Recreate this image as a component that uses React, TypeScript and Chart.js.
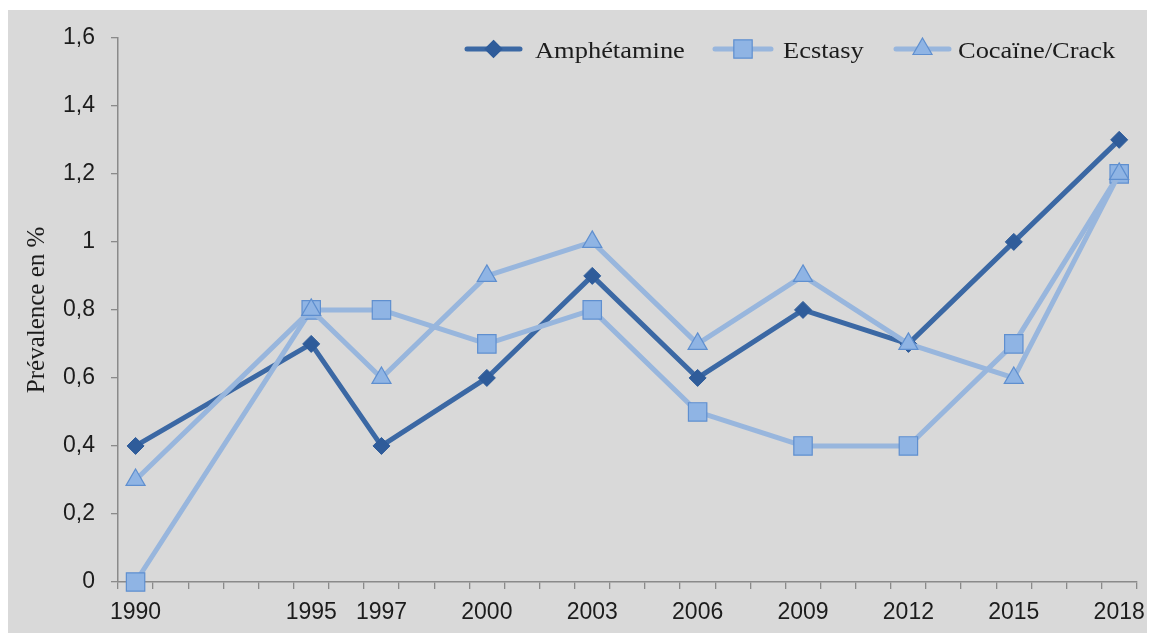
import React, { useEffect, useRef } from 'react';
import { Chart, registerables } from 'chart.js';

Chart.register(...registerables);

// ---- data ----
const firstYear = 1990;
const lastYear = 2018;
const labeledYears = [1990, 1995, 1997, 2000, 2003, 2006, 2009, 2012, 2015, 2018];
const surveyYears = [1990, 1995, 1997, 2000, 2003, 2006, 2009, 2012, 2015, 2018];
const amphetamine = [0.4, 0.7, 0.4, 0.6, 0.9, 0.6, 0.8, 0.7, 1.0, 1.3];
const ecstasy = [0.0, 0.8, 0.8, 0.7, 0.8, 0.5, 0.4, 0.4, 0.7, 1.2];
const cocaine = [0.3, 0.8, 0.6, 0.9, 1.0, 0.7, 0.9, 0.7, 0.6, 1.2];
const seriesNames = ['Amphétamine', 'Ecstasy', 'Cocaïne/Crack'];
const yAxisTitle = 'Prévalence en %';
const yMin = 0;
const yMax = 1.6;
const yStep = 0.2;

const allYears: number[] = [];
for (let y = firstYear; y <= lastYear; y++) allYears.push(y);

// ---- styles ----
const BG = '#d9d9d9';
const AXIS = '#8a8a8a';
const TEXT = '#1c1c1c';
const AMPH_LINE = '#3b68a4';
const AMPH_MARK = '#2f5c9a';
const LIGHT_LINE = '#98b6dd';
const MARK_FILL = '#8fb4e4';
const MARK_BORDER = '#5f8fcf';

function drawMarker(ctx: CanvasRenderingContext2D, style: string, x: number, y: number, r: number, fill: string, stroke: string) {
  ctx.save();
  ctx.fillStyle = fill;
  ctx.strokeStyle = stroke;
  ctx.lineWidth = 1.2;
  ctx.beginPath();
  if (style === 'rectRot') {
    ctx.moveTo(x, y - r);
    ctx.lineTo(x + r, y);
    ctx.lineTo(x, y + r);
    ctx.lineTo(x - r, y);
    ctx.closePath();
  } else if (style === 'rect') {
    const h = r * Math.SQRT1_2;
    ctx.rect(x - h, y - h, 2 * h, 2 * h);
  } else {
    const w = r * Math.sin(Math.PI / 3);
    ctx.moveTo(x, y - r);
    ctx.lineTo(x + w, y + r / 2);
    ctx.lineTo(x - w, y + r / 2);
    ctx.closePath();
  }
  ctx.fill();
  ctx.stroke();
  ctx.restore();
}

const backgroundPlugin = {
  id: 'grayBackground',
  beforeDraw(chart: any) {
    const ctx = chart.ctx as CanvasRenderingContext2D;
    ctx.save();
    ctx.fillStyle = BG;
    ctx.fillRect(0, 2, chart.width, chart.height - 2);
    ctx.restore();
  },
};

const legendPlugin = {
  id: 'insideLegend',
  afterDraw(chart: any) {
    const ctx = chart.ctx as CanvasRenderingContext2D;
    const cy = 41;
    const items = [
      { line0: 459, line1: 512, text: 527 },
      { line0: 707, line1: 763, text: 775 },
      { line0: 888, line1: 941, text: 950 },
    ];
    chart.data.datasets.forEach((ds: any, i: number) => {
      const it = items[i];
      ctx.save();
      ctx.strokeStyle = ds.borderColor;
      ctx.lineWidth = 5;
      ctx.lineCap = 'round';
      ctx.beginPath();
      ctx.moveTo(it.line0, cy);
      ctx.lineTo(it.line1, cy);
      ctx.stroke();
      ctx.restore();
      drawMarker(ctx, ds.pointStyle, (it.line0 + it.line1) / 2, cy, ds.pointRadius, ds.pointBackgroundColor, ds.pointBorderColor);
      ctx.save();
      ctx.translate(it.text, cy + 9);
      ctx.scale(1.15, 1);
      ctx.fillStyle = TEXT;
      ctx.font = '23px "Liberation Serif", "Times New Roman", serif';
      ctx.textBaseline = 'alphabetic';
      ctx.textAlign = 'left';
      ctx.fillText(ds.label, 0, 0);
      ctx.restore();
    });
  },
};

function toPoints(values: number[]) {
  return surveyYears.map((yr, i) => ({ x: String(yr), y: values[i] }));
}

export default function App() {
  const ref = useRef<HTMLCanvasElement | null>(null);

  useEffect(() => {
    document.body.style.overflow = 'hidden';
    const canvas = ref.current;
    if (!canvas) return;
    const chart = new Chart(canvas, {
      type: 'line',
      data: {
        labels: allYears.map(String),
        datasets: [
          {
            label: seriesNames[0],
            data: toPoints(amphetamine),
            borderColor: AMPH_LINE,
            borderWidth: 5,
            pointStyle: 'rectRot',
            pointRadius: 8.5,
            pointBackgroundColor: AMPH_MARK,
            pointBorderColor: AMPH_MARK,
            pointBorderWidth: 1,
            borderJoinStyle: 'round',
            order: 3,
            clip: false,
          },
          {
            label: seriesNames[1],
            data: toPoints(ecstasy),
            borderColor: LIGHT_LINE,
            borderWidth: 5,
            pointStyle: 'rect',
            pointRadius: 13,
            pointBackgroundColor: MARK_FILL,
            pointBorderColor: MARK_BORDER,
            pointBorderWidth: 1.2,
            borderJoinStyle: 'round',
            order: 2,
            clip: false,
          },
          {
            label: seriesNames[2],
            data: toPoints(cocaine),
            borderColor: LIGHT_LINE,
            borderWidth: 5,
            pointStyle: 'triangle',
            pointRadius: 11,
            pointBackgroundColor: MARK_FILL,
            pointBorderColor: MARK_BORDER,
            pointBorderWidth: 1.2,
            borderJoinStyle: 'round',
            order: 1,
            clip: false,
          },
        ] as any,
      },
      options: {
        animation: false,
        responsive: false,
        events: [],
        layout: { padding: { top: 22, right: 14, left: 0, bottom: 0 } },
        plugins: {
          legend: { display: false },
          title: { display: false },
          tooltip: { enabled: false },
        },
        scales: {
          x: {
            type: 'category',
            offset: true,
            grid: {
              display: true,
              offset: true,
              drawOnChartArea: false,
              drawTicks: true,
              tickLength: 7,
              color: AXIS,
              lineWidth: 1.3,
            },
            border: { display: true, color: AXIS, width: 1.5 },
            ticks: {
              autoSkip: false,
              maxRotation: 0,
              minRotation: 0,
              padding: 10,
              color: TEXT,
              font: { family: '"Liberation Sans", Arial, sans-serif', size: 23 },
              callback: (_v: any, index: number) => {
                const yr = allYears[index];
                return labeledYears.includes(yr) ? String(yr) : '';
              },
            },
            afterFit: (s: any) => {
              s.height = 51;
            },
          },
          y: {
            min: yMin,
            max: yMax,
            grid: {
              display: true,
              drawOnChartArea: false,
              drawTicks: true,
              tickLength: 7,
              color: AXIS,
              lineWidth: 1.3,
            },
            border: { display: true, color: AXIS, width: 1.5 },
            ticks: {
              stepSize: yStep,
              padding: 16,
              color: TEXT,
              font: { family: '"Liberation Sans", Arial, sans-serif', size: 23 },
              callback: (v: any) => String(Math.round(Number(v) * 10) / 10).replace('.', ','),
            },
            title: {
              display: true,
              text: yAxisTitle,
              color: TEXT,
              font: { family: '"Liberation Serif", "Times New Roman", serif', size: 25, weight: 'normal' },
              padding: { top: 14, bottom: 0 },
            },
            afterFit: (s: any) => {
              s.width = 110;
            },
          },
        },
      } as any,
      plugins: [backgroundPlugin, legendPlugin],
    });
    return () => chart.destroy();
  }, []);

  return (
    <div style={{ width: 1147, height: 625 }}>
      <canvas ref={ref} width={1147} height={625} style={{ display: 'block', width: 1147, height: 625 }} />
    </div>
  );
}
